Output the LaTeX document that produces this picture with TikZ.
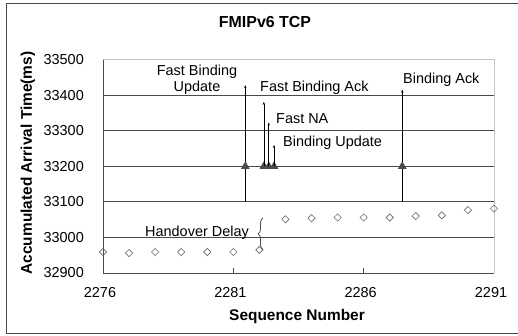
\documentclass[tikz,border=0pt]{standalone}
\usepackage{fontspec}
\setmainfont{Liberation Sans}
\usetikzlibrary{shapes.geometric,decorations.pathreplacing,arrows.meta}
\definecolor{gridgray}{HTML}{4A4A4A}
\definecolor{framegray}{HTML}{C4C4C4}
\definecolor{markgray}{HTML}{6A6A6A}
\tikzset{
  pt/.style={diamond,draw=markgray,line width=0.6bp,inner sep=0pt,minimum size=7.5bp},
  msg/.style={regular polygon,regular polygon sides=3,fill=gridgray,inner sep=0pt,minimum size=10bp},
  lbl/.style={font=\fontsize{14.5}{16}\selectfont,inner sep=0pt},
  ttl/.style={font=\bfseries\fontsize{15.5}{18}\selectfont,inner sep=0pt}
}
\begin{document}
\begin{tikzpicture}[x=1bp,y=-1bp,>={Stealth[length=3bp,width=2.4bp]}]
\useasboundingbox (0,0) rectangle (518,335);
\draw[gridgray,line width=0.8bp](519,3)--(6,3)--(6,333)--(519,333);
\node[ttl,font=\bfseries\fontsize{16}{18}\selectfont](title) at (265,22){FMIPv6 TCP};
\node[ttl,rotate=90](ylab) at (28,163){Accumulated Arrival Time(ms)};
\node[ttl](xlab) at (297,316){Sequence Number};
\foreach \v/\t in {0/32900,1/33000,2/33100,3/33200,4/33300,5/33400,6/33500}
  \node[lbl,anchor=east](y\v) at (84,273-35.58*\v){\t};
\foreach \s/\t in {0/2276,5/2281,10/2286,15/2291}
  \node[lbl](x\s) at (100+26.067*\s,293){\t};
% data: x = sequence - 2276, y = time - 32900
\begin{scope}[shift={(103,273)},x=26.067bp,y=0.3558bp]
\draw[framegray,line width=0.8bp](0,600)--(15,600)--(15,0);
\foreach \v in {100,200,...,500}
  \draw[gridgray,line width=0.8bp](0,\v)--(15,\v);
\draw[gridgray,line width=0.8bp](0,600)--(0,0)--(15,0);
\foreach \s in {5,10}
  \draw[gridgray,line width=0.8bp](\s,0)--++(0,14);
\foreach \s/\v in {0/59,1/56,2/59,3/59,4/59,5/59,6/65,7/151,8/154,9/156,10/156,11/156,12/160,13/162,14/177,15/181}
  \node[pt](d\s) at (\s,\v){};
\coordinate(fbulow) at (5.46,200);
\coordinate(fbutip) at (5.46,528);
\coordinate(fbatip) at (6.17,481);
\coordinate(natip) at (6.36,423);
\coordinate(butip) at (6.56,360);
\coordinate(balow) at (11.48,200);
\coordinate(batip) at (11.48,515);
\draw[->,line width=0.6bp](fbulow)--(fbutip);
\draw[->,line width=0.6bp](balow)--(batip);
\node[msg](fbu) at (5.46,300){};
\node[msg](fba) at (6.17,300){};
\node[msg](na) at (6.36,300){};
\node[msg](bu) at (6.56,300){};
\node[msg](ba) at (11.48,300){};
\draw[->,line width=0.6bp](fba.center)--(fbatip);
\draw[->,line width=0.6bp](na.center)--(natip);
\draw[->,line width=0.6bp](bu.center)--(butip);
\coordinate(hdlow) at (6.14,65);
\coordinate(hdhigh) at (6.14,155);
\draw[gridgray,line width=0.8bp,decorate,decoration={brace,amplitude=5bp}](hdlow)--(hdhigh);
\end{scope}
\node[lbl,align=center](fbulbl) at (197,80){Fast Binding\\Update};
\node[lbl,anchor=west](fbalbl) at (260,88){Fast Binding Ack};
\node[lbl,anchor=west](nalbl) at (276,119){Fast NA};
\node[lbl,anchor=west](bulbl) at (283,143){Binding Update};
\node[lbl,anchor=west](balbl) at (403,80){Binding Ack};
\node[lbl,anchor=east](hdlbl) at (249,233){Handover Delay};
\end{tikzpicture}
\end{document}
